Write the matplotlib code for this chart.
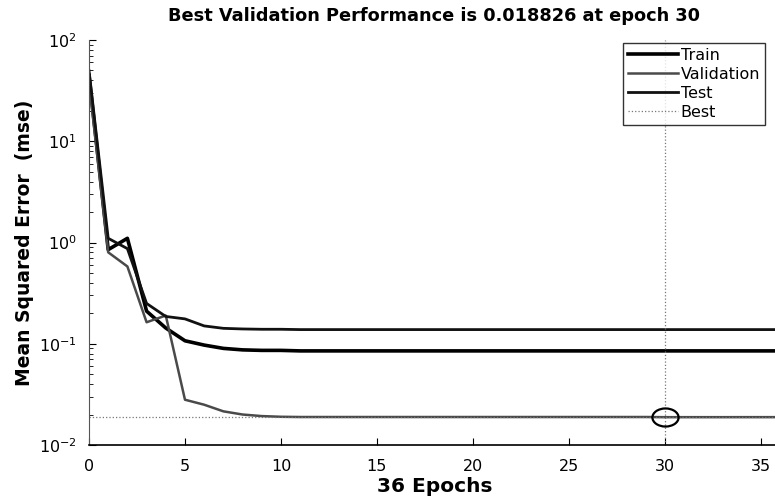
import matplotlib
matplotlib.use("Agg")
import matplotlib.pyplot as plt
from matplotlib.markers import MarkerStyle
from matplotlib.transforms import Affine2D

plt.rcParams['font.family'] = ['DejaVu Sans']

epochs = list(range(0, 37))
train = [45, 0.85, 1.1, 0.21, 0.143, 0.107, 0.097, 0.090, 0.087, 0.086,
         0.086, 0.085, 0.085, 0.085, 0.085, 0.085, 0.085, 0.085, 0.085, 0.085,
         0.085, 0.085, 0.085, 0.085, 0.085, 0.085, 0.085, 0.085, 0.085, 0.085,
         0.085, 0.085, 0.085, 0.085, 0.085, 0.085, 0.085]
validation = [38, 0.80, 0.58, 0.163, 0.19, 0.028, 0.025, 0.0215, 0.0200, 0.0193,
              0.0190, 0.0189, 0.0189, 0.0189, 0.0189, 0.0189, 0.0189, 0.0189, 0.0189, 0.0189,
              0.0189, 0.0189, 0.0189, 0.0189, 0.0189, 0.0189, 0.0189, 0.0189, 0.0189, 0.0189,
              0.018826, 0.01883, 0.01883, 0.01883, 0.01884, 0.01884, 0.01884]
test = [50, 1.1, 0.87, 0.25, 0.186, 0.176, 0.150, 0.142, 0.140, 0.139,
        0.139, 0.138, 0.138, 0.138, 0.138, 0.138, 0.138, 0.138, 0.138, 0.138,
        0.138, 0.138, 0.138, 0.138, 0.138, 0.138, 0.138, 0.138, 0.138, 0.138,
        0.138, 0.138, 0.138, 0.138, 0.138, 0.138, 0.138]
best_epoch = 30
best_value = 0.018826
x_ticks = [0, 5, 10, 15, 20, 25, 30, 35]

fig = plt.figure(figsize=(7.75, 5), dpi=100)
ax = fig.add_axes([89/775, 55/500, 691/775, 405/500])

ax.plot(epochs, train, color='black', lw=2.6, label='Train')
ax.plot(epochs, validation, color='#4a4a4a', lw=1.8, label='Validation')
ax.plot(epochs, test, color='#111111', lw=2.0, label='Test')
ax.axvline(best_epoch, color='#777777', lw=0.9, ls=':', label='Best')
ax.axhline(best_value, color='#777777', lw=0.9, ls=':')
ell = MarkerStyle('o', transform=Affine2D().scale(1.45, 1.0))
ax.plot([best_epoch], [best_value], marker=ell, ms=13, mfc='none', mec='black',
        mew=1.6, ls='none')

ax.set_yscale('log')
ax.set_ylim(0.01, 100)
ax.set_xlim(0, 36)
ax.set_xticks(x_ticks)
ax.tick_params(axis='both', which='both', direction='in', labelsize=11.5,
               top=False, right=False)
ax.tick_params(axis='both', which='major', length=5)
ax.tick_params(axis='x', which='major', pad=10)
ax.tick_params(axis='y', which='major', pad=9)
ax.tick_params(axis='y', which='minor', length=3)
for s in ['top', 'right']:
    ax.spines[s].set_visible(False)
ax.spines['left'].set_color('#555555')
ax.spines['bottom'].set_color('black')
ax.spines['bottom'].set_linewidth(1.2)

ax.set_title('Best Validation Performance is 0.018826 at epoch 30',
             fontsize=12.8, fontweight='bold', pad=14, x=0.5)
ax.set_xlabel('36 Epochs', fontsize=14.5, fontweight='bold', labelpad=2)
ax.set_ylabel('Mean Squared Error  (mse)', fontsize=13.5, fontweight='bold', labelpad=3)

leg = ax.legend(loc='upper right', fontsize=11.5, frameon=True,
                fancybox=False, edgecolor='black', handlelength=3.1,
                handletextpad=0.2, borderpad=0.3, labelspacing=0.25,
                borderaxespad=0.0)
leg.get_frame().set_linewidth(1.0)
leg.set_bbox_to_anchor((765/775, 457/500), transform=fig.transFigure)

fig.savefig('out.png', dpi=100)
